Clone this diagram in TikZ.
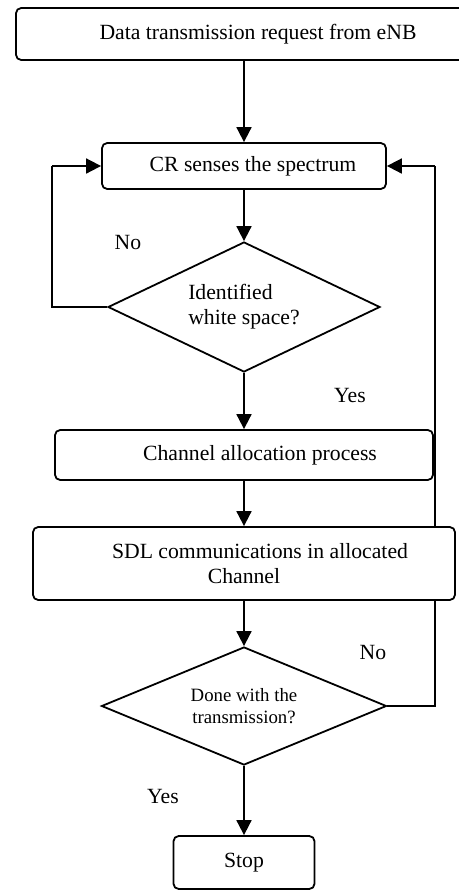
\documentclass[tikz,border=0pt]{standalone}
\usepackage{fontspec}
\setmainfont{Liberation Serif}
\usetikzlibrary{arrows.meta,shapes.geometric,backgrounds}
\begin{document}
\begin{tikzpicture}[x=0.5pt,y=-0.5pt,
  box/.style={draw, rounded corners=2.6pt, fill=white, line width=0.9pt,
    inner sep=0pt, font=\fontsize{10.85}{12.5}\selectfont},
  decision/.style={draw, diamond, fill=white, line width=0.9pt, inner sep=0pt,
    aspect=2},
  arr/.style={line width=0.9pt, -{Triangle[length=7.5pt,width=7.5pt]}},
  loopline/.style={line width=0.9pt},
  lbl/.style={inner sep=0pt, font=\fontsize{10.85}{12.5}\selectfont}]
  \useasboundingbox (0,0) rectangle (459,890);
  \clip (0,0) rectangle (459,890);

  % process boxes and decisions
  \node[box, minimum width=228pt, minimum height=26pt] (req) at (244,34)
    {\hspace*{14pt}Data transmission request from eNB};
  \node[box, minimum width=142pt, minimum height=23pt] (sense) at (244,166)
    {\hspace*{9pt}CR senses the spectrum};
  \node[decision, minimum width=136pt, minimum height=65pt, align=left,
    font=\fontsize{10.85}{12.5}\selectfont] (ws) at (244,307)
    {Identified\\white space?};
  \node[box, minimum width=189pt, minimum height=25pt] (alloc) at (244,455)
    {\hspace*{16pt}Channel allocation process};
  \node[box, minimum width=211pt, minimum height=36.5pt, align=center] (sdl) at (244,563.5)
    {\hspace*{16pt}SDL communications in allocated\\Channel};
  \node[decision, minimum width=142.5pt, minimum height=59pt, align=center,
    font=\fontsize{9.4}{11}\selectfont] (done) at (244,706)
    {Done with the\\transmission?};
  \node[box, minimum width=70.5pt, minimum height=26.5pt] (stop) at (244,862.5)
    {Stop};

  % branch labels
  \node[lbl] (noA) at (128,242) {No};
  \node[lbl] (yesA) at (350,395) {Yes};
  \node[lbl] (noB) at (373,652) {No};
  \node[lbl] (yesB) at (163,796) {Yes};

  % main flow
  \draw[arr] (req) -- (sense);
  \draw[arr] (sense) -- (ws);
  \draw[arr] (ws) -- (alloc);
  \draw[arr] (alloc) -- (sdl);
  \draw[arr] (sdl) -- (done);
  \draw[arr] (done) -- (stop);

  % feedback loops
  \coordinate (lcorner) at (52,166);
  \coordinate (rcorner) at (435,166);
  \draw[loopline] (ws.west) -| (lcorner);
  \draw[arr] (lcorner) -- (sense.west);
  \begin{pgfonlayer}{background}
    \draw[loopline] (done.east) -| (rcorner);
  \end{pgfonlayer}
  \draw[arr] (rcorner) -- (sense.east);
\end{tikzpicture}
\end{document}
